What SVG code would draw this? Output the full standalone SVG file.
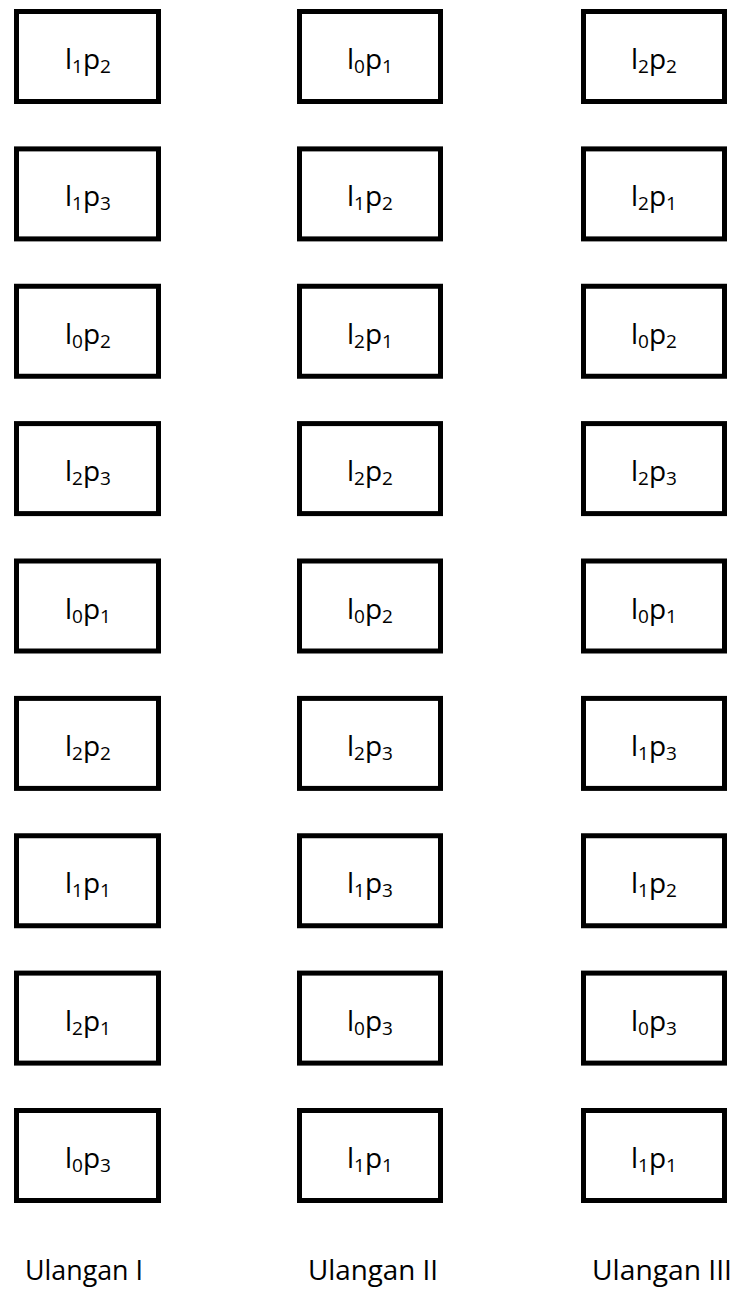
<svg xmlns="http://www.w3.org/2000/svg" width="736" height="1291" viewBox="0 0 736 1291">
<style>
.box{fill:#fff;stroke:#000;stroke-width:5}
.lbl{font-family:"Open Sans","Liberation Sans",sans-serif;font-size:28px;fill:#000;text-anchor:middle}
.sub{font-size:19px}
.cap{font-family:"Open Sans","Liberation Sans",sans-serif;font-size:28px;fill:#000}
</style>
<rect width="736" height="1291" fill="#fff"/>
<g id="nodes">
<g id="c1r1"><rect class="box" x="16.5" y="11.5" width="142" height="90"/><text class="lbl" x="88" y="69">l<tspan class="sub" dy="4">1</tspan><tspan dy="-4">p</tspan><tspan class="sub" dy="4">2</tspan></text></g>
<g id="c1r2"><rect class="box" x="16.5" y="148.9" width="142" height="90"/><text class="lbl" x="88" y="206.4">l<tspan class="sub" dy="4">1</tspan><tspan dy="-4">p</tspan><tspan class="sub" dy="4">3</tspan></text></g>
<g id="c1r3"><rect class="box" x="16.5" y="286.25" width="142" height="90"/><text class="lbl" x="88" y="343.75">l<tspan class="sub" dy="4">0</tspan><tspan dy="-4">p</tspan><tspan class="sub" dy="4">2</tspan></text></g>
<g id="c1r4"><rect class="box" x="16.5" y="423.6" width="142" height="90"/><text class="lbl" x="88" y="481.1">l<tspan class="sub" dy="4">2</tspan><tspan dy="-4">p</tspan><tspan class="sub" dy="4">3</tspan></text></g>
<g id="c1r5"><rect class="box" x="16.5" y="561" width="142" height="90"/><text class="lbl" x="88" y="618.5">l<tspan class="sub" dy="4">0</tspan><tspan dy="-4">p</tspan><tspan class="sub" dy="4">1</tspan></text></g>
<g id="c1r6"><rect class="box" x="16.5" y="698.4" width="142" height="90"/><text class="lbl" x="88" y="755.9">l<tspan class="sub" dy="4">2</tspan><tspan dy="-4">p</tspan><tspan class="sub" dy="4">2</tspan></text></g>
<g id="c1r7"><rect class="box" x="16.5" y="835.75" width="142" height="90"/><text class="lbl" x="88" y="893.25">l<tspan class="sub" dy="4">1</tspan><tspan dy="-4">p</tspan><tspan class="sub" dy="4">1</tspan></text></g>
<g id="c1r8"><rect class="box" x="16.5" y="973.1" width="142" height="90"/><text class="lbl" x="88" y="1030.6">l<tspan class="sub" dy="4">2</tspan><tspan dy="-4">p</tspan><tspan class="sub" dy="4">1</tspan></text></g>
<g id="c1r9"><rect class="box" x="16.5" y="1110.5" width="142" height="90"/><text class="lbl" x="88" y="1168">l<tspan class="sub" dy="4">0</tspan><tspan dy="-4">p</tspan><tspan class="sub" dy="4">3</tspan></text></g>

<g id="c2r1"><rect class="box" x="299.5" y="11.5" width="141" height="90"/><text class="lbl" x="370" y="69">l<tspan class="sub" dy="4">0</tspan><tspan dy="-4">p</tspan><tspan class="sub" dy="4">1</tspan></text></g>
<g id="c2r2"><rect class="box" x="299.5" y="148.9" width="141" height="90"/><text class="lbl" x="370" y="206.4">l<tspan class="sub" dy="4">1</tspan><tspan dy="-4">p</tspan><tspan class="sub" dy="4">2</tspan></text></g>
<g id="c2r3"><rect class="box" x="299.5" y="286.25" width="141" height="90"/><text class="lbl" x="370" y="343.75">l<tspan class="sub" dy="4">2</tspan><tspan dy="-4">p</tspan><tspan class="sub" dy="4">1</tspan></text></g>
<g id="c2r4"><rect class="box" x="299.5" y="423.6" width="141" height="90"/><text class="lbl" x="370" y="481.1">l<tspan class="sub" dy="4">2</tspan><tspan dy="-4">p</tspan><tspan class="sub" dy="4">2</tspan></text></g>
<g id="c2r5"><rect class="box" x="299.5" y="561" width="141" height="90"/><text class="lbl" x="370" y="618.5">l<tspan class="sub" dy="4">0</tspan><tspan dy="-4">p</tspan><tspan class="sub" dy="4">2</tspan></text></g>
<g id="c2r6"><rect class="box" x="299.5" y="698.4" width="141" height="90"/><text class="lbl" x="370" y="755.9">l<tspan class="sub" dy="4">2</tspan><tspan dy="-4">p</tspan><tspan class="sub" dy="4">3</tspan></text></g>
<g id="c2r7"><rect class="box" x="299.5" y="835.75" width="141" height="90"/><text class="lbl" x="370" y="893.25">l<tspan class="sub" dy="4">1</tspan><tspan dy="-4">p</tspan><tspan class="sub" dy="4">3</tspan></text></g>
<g id="c2r8"><rect class="box" x="299.5" y="973.1" width="141" height="90"/><text class="lbl" x="370" y="1030.6">l<tspan class="sub" dy="4">0</tspan><tspan dy="-4">p</tspan><tspan class="sub" dy="4">3</tspan></text></g>
<g id="c2r9"><rect class="box" x="299.5" y="1110.5" width="141" height="90"/><text class="lbl" x="370" y="1168">l<tspan class="sub" dy="4">1</tspan><tspan dy="-4">p</tspan><tspan class="sub" dy="4">1</tspan></text></g>

<g id="c3r1"><rect class="box" x="583.5" y="11.5" width="141" height="90"/><text class="lbl" x="654" y="69">l<tspan class="sub" dy="4">2</tspan><tspan dy="-4">p</tspan><tspan class="sub" dy="4">2</tspan></text></g>
<g id="c3r2"><rect class="box" x="583.5" y="148.9" width="141" height="90"/><text class="lbl" x="654" y="206.4">l<tspan class="sub" dy="4">2</tspan><tspan dy="-4">p</tspan><tspan class="sub" dy="4">1</tspan></text></g>
<g id="c3r3"><rect class="box" x="583.5" y="286.25" width="141" height="90"/><text class="lbl" x="654" y="343.75">l<tspan class="sub" dy="4">0</tspan><tspan dy="-4">p</tspan><tspan class="sub" dy="4">2</tspan></text></g>
<g id="c3r4"><rect class="box" x="583.5" y="423.6" width="141" height="90"/><text class="lbl" x="654" y="481.1">l<tspan class="sub" dy="4">2</tspan><tspan dy="-4">p</tspan><tspan class="sub" dy="4">3</tspan></text></g>
<g id="c3r5"><rect class="box" x="583.5" y="561" width="141" height="90"/><text class="lbl" x="654" y="618.5">l<tspan class="sub" dy="4">0</tspan><tspan dy="-4">p</tspan><tspan class="sub" dy="4">1</tspan></text></g>
<g id="c3r6"><rect class="box" x="583.5" y="698.4" width="141" height="90"/><text class="lbl" x="654" y="755.9">l<tspan class="sub" dy="4">1</tspan><tspan dy="-4">p</tspan><tspan class="sub" dy="4">3</tspan></text></g>
<g id="c3r7"><rect class="box" x="583.5" y="835.75" width="141" height="90"/><text class="lbl" x="654" y="893.25">l<tspan class="sub" dy="4">1</tspan><tspan dy="-4">p</tspan><tspan class="sub" dy="4">2</tspan></text></g>
<g id="c3r8"><rect class="box" x="583.5" y="973.1" width="141" height="90"/><text class="lbl" x="654" y="1030.6">l<tspan class="sub" dy="4">0</tspan><tspan dy="-4">p</tspan><tspan class="sub" dy="4">3</tspan></text></g>
<g id="c3r9"><rect class="box" x="583.5" y="1110.5" width="141" height="90"/><text class="lbl" x="654" y="1168">l<tspan class="sub" dy="4">1</tspan><tspan dy="-4">p</tspan><tspan class="sub" dy="4">1</tspan></text></g>
</g>
<g id="connectors"/>
<g id="captions">
<text class="cap" x="25" y="1280" textLength="118" lengthAdjust="spacingAndGlyphs">Ulangan I</text>
<text class="cap" x="308" y="1280" textLength="130" lengthAdjust="spacingAndGlyphs">Ulangan II</text>
<text class="cap" x="592" y="1280" textLength="140" lengthAdjust="spacingAndGlyphs">Ulangan III</text>
</g>
</svg>
